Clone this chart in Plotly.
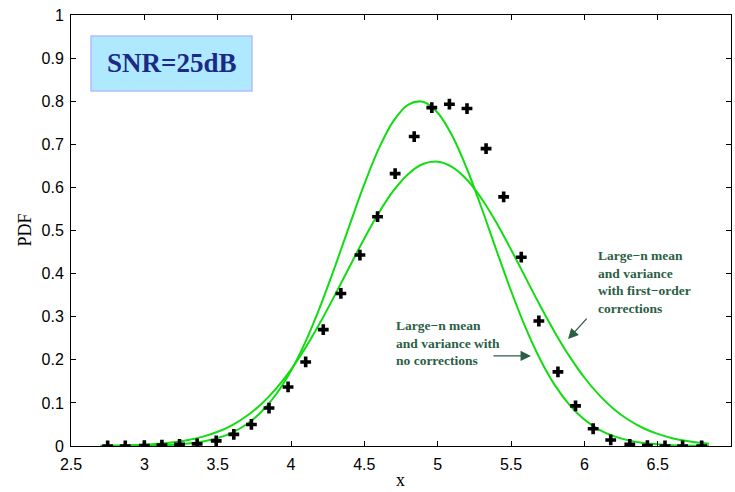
import plotly.graph_objects as go

# Simulated histogram (plus markers)
x_sim = [2.75, 2.87, 3.00, 3.12, 3.24, 3.36, 3.49, 3.61, 3.73, 3.85, 3.98, 4.10,
         4.22, 4.34, 4.47, 4.59, 4.71, 4.84, 4.96, 5.08, 5.20, 5.33, 5.45, 5.57,
         5.69, 5.82, 5.94, 6.06, 6.18, 6.31, 6.43, 6.55, 6.67, 6.80]
y_sim = [0.000, 0.000, 0.001, 0.002, 0.004, 0.005, 0.012, 0.027, 0.050, 0.088, 0.137, 0.195,
         0.270, 0.354, 0.443, 0.532, 0.632, 0.718, 0.785, 0.793, 0.783, 0.690, 0.578, 0.438,
         0.290, 0.172, 0.093, 0.040, 0.014, 0.004, 0.001, 0.000, 0.000, 0.000]

# Curve grid
x_curve = [2.70, 2.80, 2.90, 3.00, 3.10, 3.20, 3.30, 3.40, 3.50, 3.60, 3.70, 3.80,
           3.90, 4.00, 4.10, 4.20, 4.30, 4.40, 4.50, 4.60, 4.70, 4.80, 4.90, 5.00,
           5.10, 5.20, 5.30, 5.40, 5.50, 5.60, 5.70, 5.80, 5.90, 6.00, 6.10, 6.20,
           6.30, 6.40, 6.50, 6.60, 6.70, 6.80, 6.85]
# Large-n mean and variance, no corrections
y_nocorr = [0.0001, 0.0002, 0.0003, 0.0007, 0.0015, 0.0029, 0.0056, 0.0104, 0.0184, 0.0312, 0.0510, 0.0801,
            0.1207, 0.1747, 0.2429, 0.3245, 0.4163, 0.5131, 0.6075, 0.6910, 0.7549, 0.7922, 0.7986, 0.7733,
            0.7193, 0.6427, 0.5517, 0.4548, 0.3602, 0.2740, 0.2002, 0.1406, 0.0948, 0.0614, 0.0382, 0.0228,
            0.0131, 0.0072, 0.0038, 0.0020, 0.0010, 0.0004, 0.0003]
# Large-n mean and variance with first-order corrections
y_corr = [0.0005, 0.0010, 0.0018, 0.0031, 0.0052, 0.0086, 0.0139, 0.0217, 0.0330, 0.0487, 0.0701, 0.0982,
          0.1338, 0.1773, 0.2288, 0.2871, 0.3506, 0.4165, 0.4815, 0.5417, 0.5929, 0.6313, 0.6542, 0.6596,
          0.6471, 0.6177, 0.5737, 0.5185, 0.4559, 0.3901, 0.3247, 0.2630, 0.2073, 0.1589, 0.1186, 0.0861,
          0.0609, 0.0418, 0.0280, 0.0182, 0.0115, 0.0071, 0.0055]

x_ticks = [2.5, 3, 3.5, 4, 4.5, 5, 5.5, 6, 6.5, 7]
x_tick_text = ["2.5", "3", "3.5", "4", "4.5", "5", "5.5", "6", "6.5", "7"]
y_ticks = [0, 0.1, 0.2, 0.3, 0.4, 0.5, 0.6, 0.7, 0.8, 0.9, 1]
y_tick_text = ["0", "0.1", "0.2", "0.3", "0.4", "0.5", "0.6", "0.7", "0.8", "0.9", "1"]

GREEN = "#12dc12"
NOTE = "#2b5e45"
SERIF = "Liberation Serif, Times New Roman"

fig = go.Figure()
fig.add_trace(go.Scatter(x=x_curve, y=y_corr, mode="lines", line=dict(color=GREEN, width=2, shape="spline"),
                         showlegend=False, hoverinfo="skip"))
fig.add_trace(go.Scatter(x=x_curve, y=y_nocorr, mode="lines", line=dict(color=GREEN, width=2, shape="spline"),
                         showlegend=False, hoverinfo="skip"))
fig.add_trace(go.Scatter(x=x_sim, y=y_sim, mode="markers",
                         marker=dict(symbol="cross", size=9, color="black", line=dict(width=0)),
                         showlegend=False))

axis_common = dict(showgrid=False, zeroline=False, showline=True, linecolor="black", linewidth=1,
                   mirror="ticks", ticks="inside", ticklen=5, tickcolor="black", automargin=False,
                   tickfont=dict(family="Liberation Sans, Arial", size=16, color="black"))

fig.update_xaxes(range=[2.5, 7], tickmode="array", tickvals=x_ticks, ticktext=x_tick_text,
                 ticklabelstandoff=4, **axis_common)
fig.update_yaxes(range=[0, 1], tickmode="array", tickvals=y_ticks, ticktext=y_tick_text,
                 ticklabelstandoff=3, **axis_common)

# axis titles
fig.add_annotation(xref="paper", yref="paper", x=0.4985, y=-0.1044, text="x", showarrow=False,
                   xanchor="center", yanchor="bottom", borderpad=0,
                   font=dict(family=SERIF, size=18, color="black"))
fig.add_annotation(xref="paper", yref="paper", x=-0.0712, y=0.5, text="PDF", showarrow=False, textangle=-90,
                   xanchor="center", yanchor="middle", font=dict(family=SERIF, size=18, color="black"))

# SNR box
fig.add_shape(type="rect", xref="paper", yref="paper", x0=0.0303, x1=0.2742, y0=0.8237, y1=0.9513,
              fillcolor="#aee9ff", line=dict(color="#b4bcff", width=1.5), layer="above")
fig.add_annotation(xref="paper", yref="paper", x=0.1523, y=0.8875, text="<b>SNR=25dB</b>",
                   showarrow=False, xanchor="center", yanchor="middle",
                   font=dict(family=SERIF, size=27, color="#1b2a85"))

note_font = dict(family=SERIF, size=13.5, color=NOTE)
fig.add_annotation(xref="paper", yref="paper", x=0.795, y=0.464, xanchor="left", yanchor="top", align="left",
                   text="<b>Large−n mean<br>and variance<br>with first−order<br>corrections</b>",
                   showarrow=False, font=note_font)
fig.add_annotation(xref="paper", yref="paper", x=0.489, y=0.302, xanchor="left", yanchor="top", align="left",
                   text="<b>Large−n mean<br>and variance with<br>no corrections</b>",
                   showarrow=False, font=note_font)
# arrows
fig.add_annotation(x=5.889, y=0.248, ax=20, ay=-22, text="", showarrow=True,
                   arrowhead=2, arrowsize=1.6, arrowwidth=1.3, arrowcolor=NOTE)
fig.add_annotation(x=5.636, y=0.209, ax=-39, ay=0, text="", showarrow=True,
                   arrowhead=2, arrowsize=1.6, arrowwidth=1.3, arrowcolor=NOTE)

fig.update_layout(width=735, height=492, margin=dict(l=71, r=4, t=15, b=46),
                  plot_bgcolor="white", paper_bgcolor="white")

fig.write_html("out.html")
